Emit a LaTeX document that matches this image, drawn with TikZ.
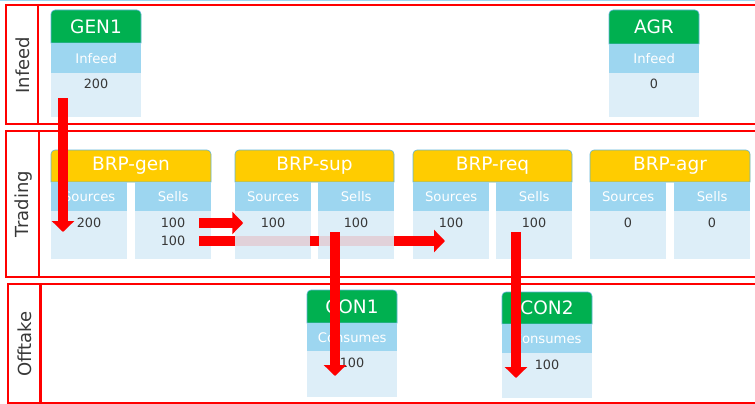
\documentclass[tikz,border=0pt]{standalone}
\usepackage{fontspec}
\setmainfont{DejaVu Sans}
\usetikzlibrary{arrows.meta}
\definecolor{lanered}{HTML}{FF0000}
\definecolor{boxgreen}{HTML}{00B050}
\definecolor{boxyellow}{HTML}{FFCC00}
\definecolor{subblue}{HTML}{9DD6F0}
\definecolor{bodyblue}{HTML}{DDEEF8}
\definecolor{edgeblue}{HTML}{5FB4D6}
\definecolor{txtgray}{HTML}{383838}
\tikzset{
lane/.style={draw=lanered, line width=2pt},
lanetext/.style={rotate=90, text=txtgray, font=\fontsize{18}{20}\selectfont},
headtext/.style={text=white, font=\fontsize{18.5}{20}\selectfont},
subcell/.style={anchor=north west, inner sep=0pt, fill=subblue, text=white, font=\fontsize{13.2}{15}\selectfont},
bodycell/.style={anchor=north west, inner sep=0pt, fill=bodyblue},
wide/.style={minimum width=90pt},
col/.style={minimum width=76pt},
val/.style={text=txtgray, font=\fontsize{12.8}{15}\selectfont},
flow/.style={draw=red, line width=10pt, -{Triangle[length=11pt,width=22pt]}},
veil/.style={fill=bodyblue, fill opacity=.88},
}
% header tab: name, x, y, width, height, colour, text
\newcommand{\headbox}[7]{%
  \filldraw[fill=#6, draw=edgeblue, line width=.6pt] (#2,#3+#5) [rounded corners=4pt] -- (#2,#3) -- (#2+#4,#3) [sharp corners] -- (#2+#4,#3+#5) -- cycle;
  \node[headtext] (#1) at (#2+#4/2,#3+#5/2) {#7};}

\begin{document}
\begin{tikzpicture}[x=1pt, y=-1pt]
    \useasboundingbox (0,0) rectangle (755,404);
    \fill[subblue] (0,0) rectangle (755,1.5);

    % lanes
    \draw[lane] (6,5) rectangle (762,124);
    \draw[lane] (38,5) -- (38,124);
    \draw[lane] (6,131) rectangle (762,277);
    \draw[lane] (39,131) -- (39,277);
    \draw[lane] (8,284) rectangle (762,403);
    \draw[lane, line width=3pt] (40,284) -- (40,403);
    \node[lanetext] (infeed) at (23,65) {Infeed};
    \node[lanetext] (trading) at (24,204) {Trading};
    \node[lanetext] (offtake) at (25,344) {Offtake};

    % infeed
    \headbox{gen1}{51}{10}{90}{33}{boxgreen}{GEN1}
    \node[subcell, wide, minimum height=30pt] (gen1sub) at (51,43) {Infeed};
    \node[bodycell, wide, minimum height=44pt] (gen1body) at (51,73) {};
    \node[val] (gen1val) at (96,84) {200};
    \headbox{agr}{609}{10}{90}{34}{boxgreen}{AGR}
    \node[subcell, wide, minimum height=29pt] (agrsub) at (609,44) {Infeed};
    \node[bodycell, wide, minimum height=44pt] (agrbody) at (609,73) {};
    \node[val] (agrval) at (654,84) {0};

    % offtake
    \headbox{con1}{307}{290}{90}{33}{boxgreen}{CON1}
    \node[subcell, wide, minimum height=28pt] (con1sub) at (307,323) {Consumes};
    \node[bodycell, wide, minimum height=46pt] (con1body) at (307,351) {};
    \node[val] (con1val) at (352,363) {100};
    \headbox{con2}{502}{292}{90}{32}{boxgreen}{CON2}
    \node[subcell, wide, minimum height=29pt] (con2sub) at (502,324) {Consumes};
    \node[bodycell, wide, minimum height=45pt] (con2body) at (502,353) {};
    \node[val] (con2val) at (547,365) {100};

    % trading
    \foreach \nm/\x/\w/\lbl/\s/\b in {gen/51/160/BRP-gen/200/100, sup/235/159/BRP-sup/100/100,
            req/413/159/BRP-req/100/100, agr/590/160/BRP-agr/0/0} {
        \headbox{brp\nm}{\x}{150}{\w}{32}{boxyellow}{\lbl}
        \node[subcell, col, minimum height=29pt] (\nm-src) at (\x,182) {Sources};
        \node[subcell, col, minimum height=29pt] (\nm-sell) at (\x+\w-76,182) {Sells};
        \node[bodycell, col, minimum height=48pt] (\nm-srcb) at (\x,211) {};
        \node[bodycell, col, minimum height=48pt] (\nm-sellb) at (\x+\w-76,211) {};
        \node[val] (\nm-srcv) at (\x+38,223) {\s};
        \node[val] (\nm-sellv) at (\x+\w-38,223) {\b};
    }
    \node[val] (gen-sellv2) at (173,241) {100};

    \coordinate (gen1out) at (63,98);
    \coordinate (genin) at (63,232);
    \coordinate (reqin) at (445,241);
    \coordinate (supout) at (335,232);
    \coordinate (con1in) at (335,376);
    \coordinate (reqout) at (516,232);
    \coordinate (con2in) at (516,378);

    % flows
    \draw[flow, shorten <=10pt] (gen-sellv2) -- (reqin);
    \fill[veil] (235,235) rectangle (310,248);
    \fill[veil] (319,235) rectangle (394,248);
    \draw[flow, shorten <=10pt, shorten >=14pt] (gen-sellv) -- (sup-srcv);
    \draw[flow] (gen1out) -- (genin);
    \draw[flow] (supout) -- (con1in);
    \draw[flow] (reqout) -- (con2in);
\end{tikzpicture}
\end{document}
